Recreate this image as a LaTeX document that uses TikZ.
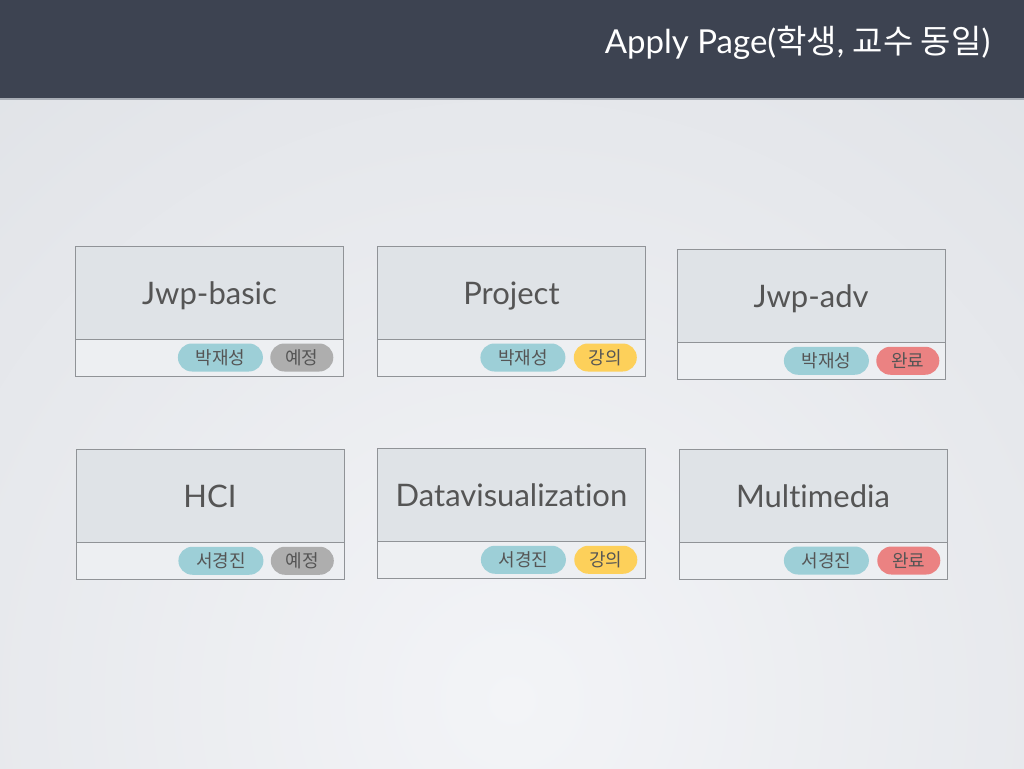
\documentclass[tikz,border=0pt]{standalone}
\usepackage{fontspec}
\setmainfont{Lato}[Ligatures=NoCommon]
\newfontfamily\krfont{Noto Sans CJK KR}
\usetikzlibrary{positioning}
\definecolor{barbg}{HTML}{3D4351}
\definecolor{barline}{HTML}{A9AEB6}
\definecolor{bglight}{HTML}{F3F4F7}
\definecolor{bgdark}{HTML}{D8DBE0}
\definecolor{cardline}{HTML}{909397}
\definecolor{cardfill}{HTML}{DFE3E7}
\definecolor{footfill}{HTML}{EDEFF2}
\definecolor{textgray}{HTML}{555555}
\definecolor{pillteal}{HTML}{9DCFD7}
\definecolor{pillgray}{HTML}{AEAEAE}
\definecolor{pillyellow}{HTML}{FDD05A}
\definecolor{pillred}{HTML}{EB8282}
\tikzset{
  cardtop/.style={draw=cardline, fill=cardfill, line width=1pt, minimum width=268pt,
    minimum height=93pt, inner sep=0pt, outer sep=0pt, text=textgray,
    font=\fontsize{31}{31}\selectfont, text height=23pt, text depth=0pt},
  cardfoot/.style={draw=cardline, fill=footfill, line width=1pt, minimum width=268pt,
    minimum height=37pt, inner sep=0pt, outer sep=0pt},
  pill/.style={rounded corners=14pt, minimum height=28pt, inner sep=0pt, text=textgray,
    font=\krfont\fontsize{18}{18}\selectfont},
  namepill/.style={pill, fill=pillteal, minimum width=85pt},
  statpill/.style={pill, minimum width=63pt},
}
\begin{document}
\begin{tikzpicture}[x=1pt,y=-1pt]
  \useasboundingbox (0,0) rectangle (1024,768);
  % background and title bar
  \begin{scope}
    \clip (0,0) rectangle (1024,768);
    \shade[inner color=bglight, outer color=bgdark] (-688,-500) rectangle (1712,1900);
  \end{scope}
  \fill[barbg] (0,0) rectangle (1024,98);
  \draw[barline, line width=1.5pt] (0,99) -- (1024,99);
  \node[anchor=base east, text=white, font=\fontsize{33}{33}\selectfont] (title) at (994,54)
    {Apply Page({\krfont 학생}, {\krfont 교수 동일})};

  % first row
  \node[cardtop] (jwpbasic) at (209.5,292.5) {Jwp-basic};
  \node[cardfoot, below=0pt of jwpbasic] (jwpbasicfoot) {};
  \node[statpill, fill=pillgray, anchor=east] (jwpbasicstat) at ([xshift=-10pt]jwpbasicfoot.east) {예정};
  \node[namepill, left=7pt of jwpbasicstat] (jwpbasicname) {박재성};

  \node[cardtop] (project) at (511.5,292.5) {Project};
  \node[cardfoot, below=0pt of project] (projectfoot) {};
  \node[statpill, fill=pillyellow, anchor=east] (projectstat) at ([xshift=-8.5pt]projectfoot.east) {강의};
  \node[namepill, left=8pt of projectstat] (projectname) {박재성};

  \node[cardtop] (jwpadv) at (811,295.75) {Jwp-adv};
  \node[cardfoot, below=0pt of jwpadv] (jwpadvfoot) {};
  \node[statpill, fill=pillred, anchor=east] (jwpadvstat) at ([xshift=-5.5pt]jwpadvfoot.east) {완료};
  \node[namepill, left=7pt of jwpadvstat] (jwpadvname) {박재성};

  % second row
  \node[cardtop] (hci) at (210,495.75) {HCI};
  \node[cardfoot, below=0pt of hci] (hcifoot) {};
  \node[statpill, fill=pillgray, anchor=east] (hcistat) at ([xshift=-10pt]hcifoot.east) {예정};
  \node[namepill, left=7pt of hcistat] (hciname) {서경진};

  \node[cardtop] (dataviz) at (511.5,494.75) {Datavisualization};
  \node[cardfoot, below=0pt of dataviz] (datavizfoot) {};
  \node[statpill, fill=pillyellow, anchor=east] (datavizstat) at ([xshift=-8pt]datavizfoot.east) {강의};
  \node[namepill, left=8pt of datavizstat] (datavizname) {서경진};

  \node[cardtop] (multimedia) at (813,495.5) {Multimedia};
  \node[cardfoot, below=0pt of multimedia] (multimediafoot) {};
  \node[statpill, fill=pillred, anchor=east] (multimediastat) at ([xshift=-6.5pt]multimediafoot.east) {완료};
  \node[namepill, left=8pt of multimediastat] (multimedianame) {서경진};
\end{tikzpicture}
\end{document}
